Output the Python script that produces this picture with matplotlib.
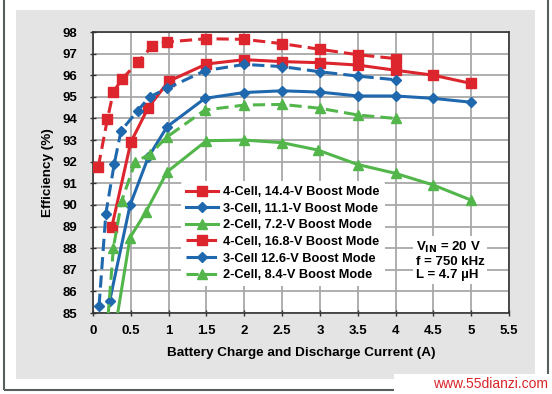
import matplotlib
matplotlib.use("Agg")
import matplotlib.pyplot as plt
from matplotlib.patches import Rectangle

plt.rcParams['font.family'] = ['Liberation Sans', 'DejaVu Sans']
plt.rcParams['font.weight'] = 'bold'

W, H = 552, 394

# data
x_4c_14 = [0.25, 0.5, 0.73, 1.0, 1.5, 2.0, 2.5, 3.0, 3.5, 4.0, 4.5, 5.0]
y_4c_14 = [89.0, 92.9, 94.5, 95.72, 96.52, 96.72, 96.63, 96.58, 96.47, 96.23, 96.0, 95.62]

x_3c_11 = [0.22, 0.49, 0.73, 0.98, 1.48, 2.0, 2.5, 3.0, 3.5, 4.0, 4.5, 5.0]
y_3c_11 = [85.55, 89.99, 92.2, 93.62, 94.93, 95.2, 95.28, 95.22, 95.04, 95.04, 94.93, 94.75]

x_2c_7 = [0.28, 0.49, 0.7, 0.98, 1.5, 2.0, 2.5, 2.97, 3.5, 4.0, 4.5, 5.0]
y_2c_7 = [84.0, 88.49, 89.68, 91.53, 92.97, 93.0, 92.88, 92.54, 91.87, 91.46, 90.92, 90.22]

x_4c_16 = [0.07, 0.19, 0.27, 0.39, 0.59, 0.78, 0.98, 1.5, 2.0, 2.5, 3.0, 3.5, 4.0]
y_4c_16 = [91.76, 93.96, 95.24, 95.84, 96.6, 97.34, 97.54, 97.69, 97.66, 97.46, 97.2, 96.95, 96.77]

x_3c_12 = [0.08, 0.17, 0.28, 0.37, 0.59, 0.75, 0.98, 1.48, 2.0, 2.5, 3.0, 3.5, 4.0]
y_3c_12 = [85.33, 89.6, 91.88, 93.42, 94.36, 95.0, 95.39, 96.21, 96.5, 96.4, 96.16, 95.96, 95.79]

x_2c_8 = [0.18, 0.27, 0.38, 0.56, 0.75, 0.98, 1.48, 2.0, 2.5, 3.0, 3.5, 4.0]
y_2c_8 = [84.0, 88.03, 90.19, 92.0, 92.34, 93.15, 94.39, 94.62, 94.65, 94.47, 94.16, 94.0]

x_ticks = [0, 0.5, 1, 1.5, 2, 2.5, 3, 3.5, 4, 4.5, 5, 5.5]
x_tick_labels = ['0', '0.5', '1', '1.5', '2', '2.5', '3', '3.5', '4', '4.5', '5', '5.5']
y_ticks = list(range(85, 99))

red = '#dc252d'
blue = '#1f68ad'
green = '#52b64b'

fig = plt.figure(figsize=(W / 100, H / 100), dpi=100, facecolor='white')

# gray panel behind the chart and the outer frame
fig.patches.append(Rectangle((16 / W, 1 - 379 / H), (535 - 16) / W, (379 - 10) / H,
                             transform=fig.transFigure, facecolor='#e4e4e4',
                             edgecolor='none', zorder=-2))
fig.patches.append(Rectangle((3.5 / W, 1 - 390 / H), (548 - 3.5) / W, 400 / H,
                             transform=fig.transFigure, facecolor='none',
                             edgecolor='#55605a', linewidth=1.5, zorder=-1))

ax = fig.add_axes([93 / W, 1 - 313 / H, 416 / W, 281 / H])
ax.set_zorder(1)
ax.set_facecolor('white')

series = [
    (x_4c_14, y_4c_14, red, 's', '-', '4-Cell, 14.4-V Boost Mode'),
    (x_3c_11, y_3c_11, blue, 'D', '-', '3-Cell, 11.1-V Boost Mode'),
    (x_2c_7, y_2c_7, green, '^', '-', '2-Cell, 7.2-V Boost Mode'),
    (x_4c_16, y_4c_16, red, 's', '--', '4-Cell, 16.8-V Boost Mode'),
    (x_3c_12, y_3c_12, blue, 'D', '--', '3-Cell 12.6-V Boost Mode'),
    (x_2c_8, y_2c_8, green, '^', '--', '2-Cell, 8.4-V Boost Mode'),
]
for xs, ys, c, m, ls, lab in series:
    line, = ax.plot(xs, ys, color=c, marker=m, linestyle=ls, linewidth=2.2,
                    markersize=6.5 if m != 'D' else 5.5, label=lab, zorder=3)
    if ls == '--':
        line.set_dashes((4, 2))

ax.set_xlim(0, 5.5)
ax.set_ylim(85, 98)
ax.set_xticks(x_ticks)
ax.set_xticklabels(x_tick_labels)
ax.set_yticks(y_ticks)
ax.grid(True, color='#a8a8a8', linewidth=1.3)
ax.set_axisbelow(True)
ax.tick_params(direction='inout', length=5, width=1, color='#333333',
               labelsize=9.5)
ax.tick_params(axis='x', pad=6)
ax.tick_params(axis='y', pad=9)
for s in ax.spines.values():
    s.set_color('#333333')
    s.set_linewidth(1.2)

ax.set_xlabel('Battery Charge and Discharge Current (A)', fontsize=9.7,
              fontweight='bold', labelpad=7)
ax.set_ylabel('Efficiency (%)', fontsize=9.7, fontweight='bold', labelpad=6)

leg = ax.legend(loc='upper left', bbox_to_anchor=(88 / 416, 1 - 149 / 281),
                frameon=True, fontsize=9.2, handlelength=2.5, handletextpad=0.4,
                labelspacing=0.36, borderpad=0.4, borderaxespad=0)
leg.get_frame().set_facecolor('white')
leg.get_frame().set_edgecolor('none')
leg.get_frame().set_alpha(1)

ax.text(4.27, 87.42, 'V$_{\\mathbf{IN}}$ = 20 V\nf = 750 kHz\nL = 4.7 \u00b5H',
        fontsize=9.5, fontweight='bold', va='center', ha='left', linespacing=1.1,
        bbox=dict(facecolor='white', edgecolor='none', pad=2), zorder=4)

# site watermark
fig.patches.append(Rectangle((394 / W, 0), (W - 394) / W, (394 - 374) / H,
                             transform=fig.transFigure, facecolor='white',
                             edgecolor='none', zorder=2))
fig.text(548 / W, 1 - 384 / H, 'www.55dianzi.com', color='#d8252b', fontsize=10,
         fontweight='normal', ha='right', va='center', zorder=5)

fig.savefig('out.png', dpi=100, facecolor=fig.get_facecolor())
